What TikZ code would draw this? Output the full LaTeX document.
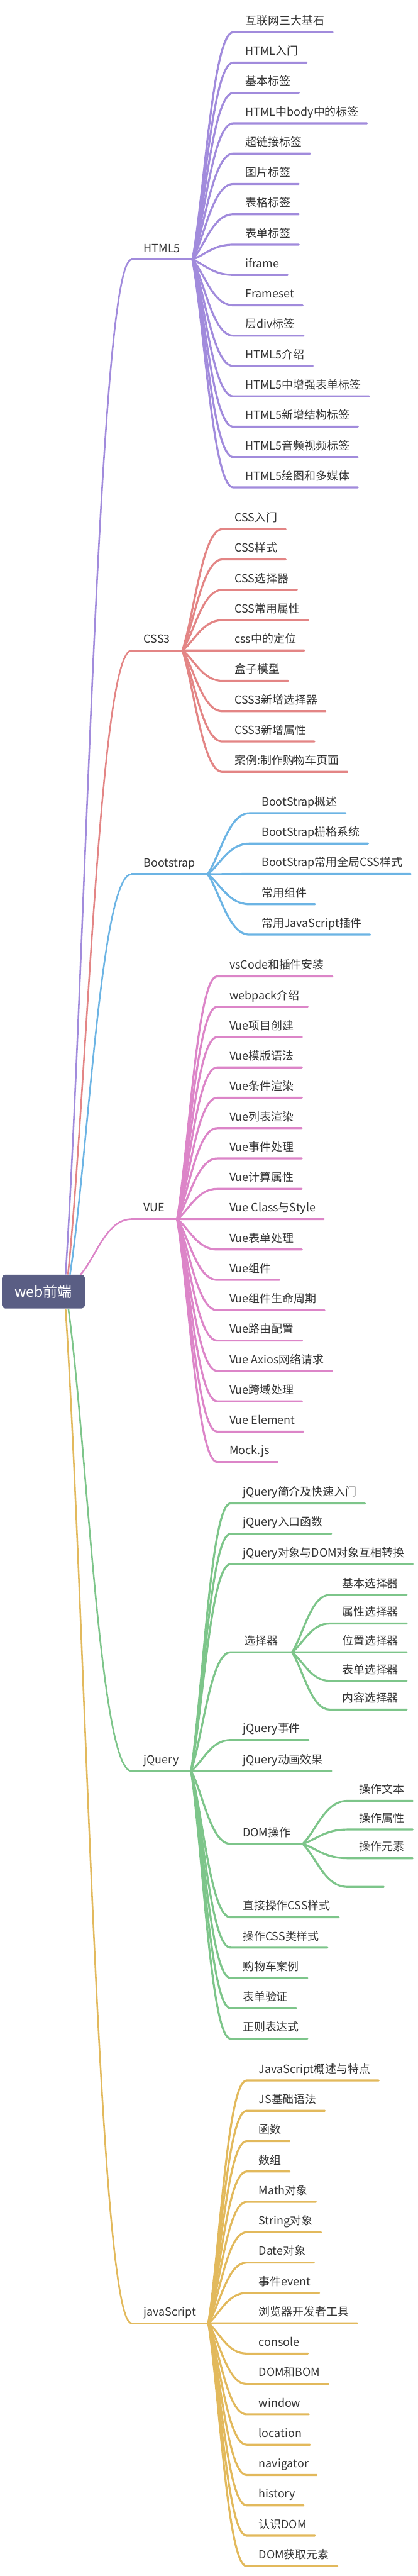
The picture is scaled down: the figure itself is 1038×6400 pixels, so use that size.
\documentclass[tikz,border=0pt]{standalone}
\usepackage{fontspec}
\setmainfont{Noto Sans CJK SC}
\usepackage{tikz}
\usetikzlibrary{calc, positioning}
\definecolor{rootslate}{RGB}{90,94,132}
\definecolor{htmlpurple}{RGB}{161,139,220}
\definecolor{cssred}{RGB}{227,133,133}
\definecolor{bootblue}{RGB}{108,180,228}
\definecolor{vuepink}{RGB}{220,133,200}
\definecolor{jqgreen}{RGB}{125,197,138}
\definecolor{jsyellow}{RGB}{226,185,92}
\definecolor{leaftext}{RGB}{51,51,51}
\tikzset{
  nodetext/.style={anchor=south west, inner ysep=6pt, text height=11pt, text depth=3pt, text=leaftext, font=\fontsize{14pt}{16pt}\selectfont},
  leaf/.style={nodetext, inner xsep=10pt, execute at begin node={\hspace{5pt}}},
  hub/.style={nodetext, inner xsep=15pt},
  twig/.style={line width=2.5pt, line cap=round, line join=round},
  trunk/.style={line width=2pt},
  bough/.style={to path={.. controls ($(\tikztostart)!0.3!(\tikztotarget)$) and ($(\tikztotarget)!0.5!(\tikztostart |- \tikztotarget)$) .. (\tikztotarget)}}
}

\begin{document}
\begin{tikzpicture}[x=0.5pt, y=-0.5pt]
  \useasboundingbox (0,0) rectangle (1038,6400);
  % Root
  \node[fill=rootslate, rounded corners=4pt, minimum width=103pt, minimum height=42pt, inner sep=0pt, text=white, font=\fontsize{18pt}{20pt}\selectfont] (root) at (108,3209) {web前端};
  \coordinate (tophtml) at ($(root.north)+(55,0)$);
  \coordinate (topcss) at ($(root.north)+(61,0)$);
  \coordinate (topboot) at ($(root.north)+(66,0)$);
  \coordinate (topvue) at ($(root.north)+(92,0)$);
  \coordinate (botjs) at ($(root.south)+(55,0)$);
  \coordinate (botjq) at ($(root.south)+(62,0)$);
  % Main topics
  \node[hub] (html) at (327,645) {HTML5};
  \node[hub] (css) at (327,1616) {CSS3};
  \node[hub] (boot) at (327,2172) {Bootstrap};
  \node[hub] (vue) at (327,3029) {VUE};
  \node[hub] (jq) at (327,4400) {jQuery};
  \node[hub] (js) at (327,5772) {javaScript};
  \draw[trunk, htmlpurple] (tophtml) to[bough] (html.south west);
  \draw[trunk, cssred] (topcss) to[bough] (css.south west);
  \draw[trunk, bootblue] (topboot) to[bough] (boot.south west);
  \draw[trunk, vuepink] (topvue) to[bough] (vue.south west);
  \draw[trunk, jqgreen] (botjq) to[bough] (jq.south west);
  \draw[trunk, jsyellow] (botjs) to[bough] (js.south west);
  \draw[twig, htmlpurple] (html.south west) -- (html.south east);
  \draw[twig, cssred] (css.south west) -- (css.south east);
  \draw[twig, bootblue] (boot.south west) -- (boot.south east);
  \draw[twig, vuepink] (vue.south west) -- (vue.south east);
  \draw[twig, jqgreen] (jq.south west) -- (jq.south east);
  \draw[twig, jsyellow] (js.south west) -- (js.south east);
  % HTML5
  \foreach \t [count=\i from 0] in {互联网三大基石, HTML入门, 基本标签, HTML中body中的标签, 超链接标签, 图片标签, 表格标签, 表单标签, iframe, Frameset, 层div标签, HTML5介绍, HTML5中增强表单标签, HTML5新增结构标签, HTML5音频视频标签, HTML5绘图和多媒体} {
    \node[leaf] (h\i) at (580,{80+75.4*\i}) {\t};
    \draw[twig, htmlpurple] (html.south east) to[bough] (h\i.south west) -- (h\i.south east);
  }
  % CSS3
  \foreach \t [count=\i from 0] in {CSS入门, CSS样式, CSS选择器, CSS常用属性, css中的定位, 盒子模型, CSS3新增选择器, CSS3新增属性, 案例:制作购物车页面} {
    \node[leaf] (c\i) at (553,{1314.5+75.4*\i}) {\t};
    \draw[twig, cssred] (css.south east) to[bough] (c\i.south west) -- (c\i.south east);
  }
  % Bootstrap
  \foreach \t [count=\i from 0] in {BootStrap概述, BootStrap栅格系统, BootStrap常用全局CSS样式, 常用组件, 常用JavaScript插件} {
    \node[leaf] (b\i) at (620,{2020.4+75.4*\i}) {\t};
    \draw[twig, bootblue] (boot.south east) to[bough] (b\i.south west) -- (b\i.south east);
  }
  % VUE
  \foreach \t [count=\i from 0] in {vsCode和插件安装, webpack介绍, Vue项目创建, Vue模版语法, Vue条件渲染, Vue列表渲染, Vue事件处理, Vue计算属性, Vue Class与Style, Vue表单处理, Vue组件, Vue组件生命周期, Vue路由配置, Vue Axios网络请求, Vue跨域处理, Vue Element, Mock.js} {
    \node[leaf] (v\i) at (540,{2425.8+75.4*\i}) {\t};
    \draw[twig, vuepink] (vue.south east) to[bough] (v\i.south west) -- (v\i.south east);
  }
  % jQuery
  \foreach \t/\y [count=\i] in {jQuery简介及快速入门/3735, jQuery入口函数/3810.5, jQuery对象与DOM对象互相转换/3886, jQuery事件/4323, jQuery动画效果/4400, 直接操作CSS样式/4763.4, 操作CSS类样式/4838.8, 购物车案例/4914.2, 表单验证/4989.6, 正则表达式/5065} {
    \node[leaf] (q\i) at (573,\y) {\t};
    \draw[twig, jqgreen] (jq.south east) to[bough] (q\i.south west) -- (q\i.south east);
  }
  \node[hub, inner xsep=17pt] (sel) at (573,4105) {选择器};
  \node[hub] (dom) at (573,4581) {DOM操作};
  \draw[twig, jqgreen] (jq.south east) to[bough] (sel.south west) -- (sel.south east);
  \draw[twig, jqgreen] (jq.south east) to[bough] (dom.south west) -- (dom.south east);
  \foreach \t [count=\i from 0] in {基本选择器, 属性选择器, 位置选择器, 表单选择器, 内容选择器} {
    \node[leaf] (s\i) at (820,{3962.3+71.3*\i}) {\t};
    \draw[twig, jqgreen] (sel.south east) to[bough] (s\i.south west) -- (s\i.south east);
  }
  \foreach \t [count=\i from 0] in {操作文本, 操作属性, 操作元素} {
    \node[leaf] (d\i) at (863,{4474.2+71.2*\i}) {\t};
    \draw[twig, jqgreen] (dom.south east) to[bough] (d\i.south west) -- (d\i.south east);
  }
  \node[leaf, minimum width=45pt] (d3) at (863,4687.8) {};
  \draw[twig, jqgreen] (dom.south east) to[bough] (d3.south west) -- (d3.south east);
  % javaScript
  \foreach \t [count=\i from 0] in {JavaScript概述与特点, JS基础语法, 函数, 数组, Math对象, String对象, Date对象, 事件event, 浏览器开发者工具, console, DOM和BOM, window, location, navigator, history, 认识DOM, DOM获取元素} {
    \node[leaf] (j\i) at (613,{5168.8+75.4*\i}) {\t};
    \draw[twig, jsyellow] (js.south east) to[bough] (j\i.south west) -- (j\i.south east);
  }
\end{tikzpicture}
\end{document}
